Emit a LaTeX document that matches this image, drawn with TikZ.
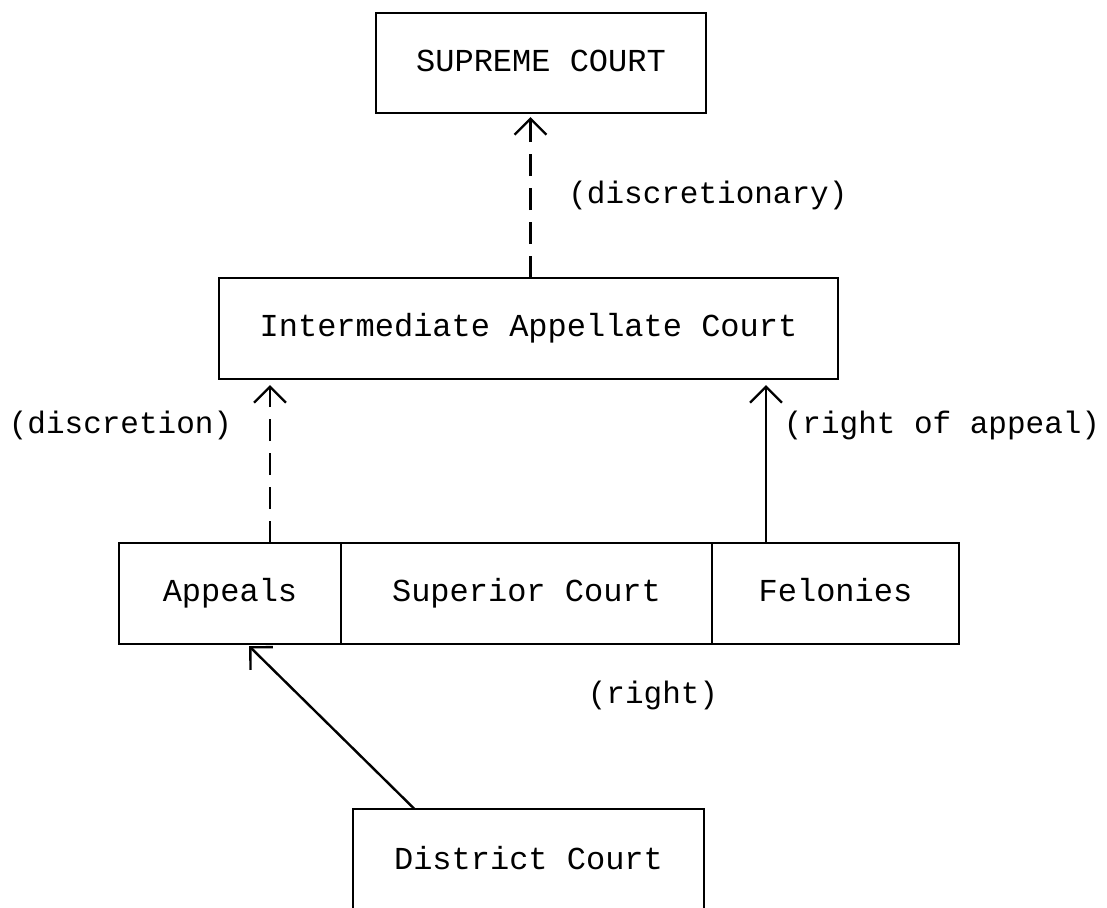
\documentclass[tikz,border=0pt]{standalone}
\usepackage{fontspec}
\setmainfont{Liberation Mono}
\usetikzlibrary{positioning}
\usetikzlibrary{arrows.meta}

\begin{document}
\begin{tikzpicture}[->,>={Straight Barb[length=8pt,width=16pt]},x=0.5pt,y=-0.5pt,line width=1.2pt]
		\tikzset{court/.style = {shape=rectangle, draw, outer sep=0pt, inner sep=0pt, minimum height=50.5pt, text height=11pt, text depth=3pt, font=\fontsize{16pt}{19pt}\selectfont}}
		\tikzset{lbl/.style = {font=\fontsize{15.5pt}{18pt}\selectfont}}
		\tikzset{discr/.style = {dash pattern=on 11pt off 6pt}}
		\useasboundingbox (0,0) rectangle (1107,907);
		
		\node[court, minimum width=165pt, minimum height=50pt] (SUPREME) at (541,63) {SUPREME COURT};
		\node[court, minimum width=309.5pt] (INTER) at (528.5,328.5) {Intermediate Appellate Court};
		
		% trial level
		\node[court, minimum width=111pt] (APPEALS) at (230,593.5) {Appeals};
		\node[court, minimum width=185.5pt, right=0pt of APPEALS] (SUPERIOR) {Superior Court};
		\node[court, minimum width=123.5pt, right=0pt of SUPERIOR] (FELONIES) {Felonies};
		\node[court, minimum width=175.5pt, anchor=north, text height=30pt, text depth=30pt] (DISTRICT) at (528.5,809) {District Court};
		
		\draw[discr, shorten >=2pt] ([xshift=1pt]INTER.north) -- node[lbl, right=15pt] {(discretionary)} ([xshift=1pt]INTER.north |- SUPREME.south);
		\draw[discr, shorten >=3pt] ([xshift=20pt]APPEALS.north) -- node[lbl, pos=0.715, left=15pt] {(discretion)} ([xshift=20pt]APPEALS.north |- INTER.south);
		\draw[shorten >=3pt] ([xshift=-34.75pt]FELONIES.north) -- node[lbl, pos=0.715, right=5pt] {(right of appeal)} ([xshift=-34.75pt]FELONIES.north |- INTER.south);
		\draw[shorten >=1.5pt] ([xshift=-57pt]DISTRICT.north) -- ([xshift=8.5pt]APPEALS.south);
		\node[lbl] (RIGHT) at (653,695) {(right)};
		
\end{tikzpicture}
\end{document}
